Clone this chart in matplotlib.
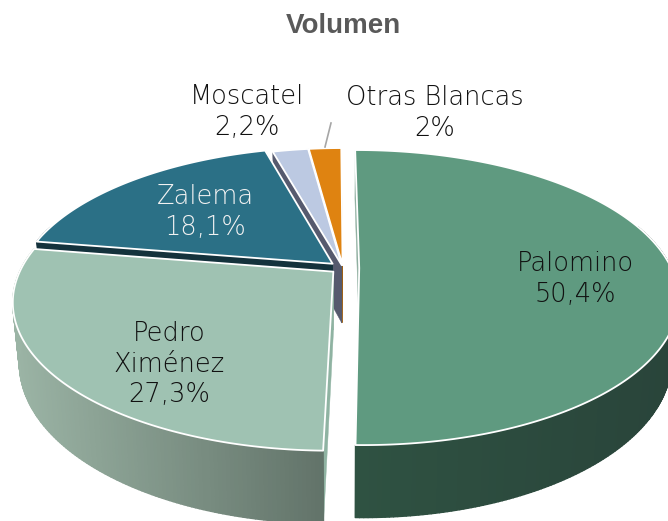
import numpy as np
import matplotlib
matplotlib.use("Agg")
import matplotlib.pyplot as plt
from matplotlib.collections import PolyCollection
from matplotlib.patches import Polygon

categories = ["Palomino", "Pedro\nXiménez", "Zalema", "Moscatel", "Otras Blancas"]
values = [50.4, 27.3, 18.1, 2.2, 2.0]
value_labels = ["50,4%", "27,3%", "18,1%", "2,2%", "2%"]
explode = [0.052, 0.04, 0.045, 0.02, 0.02]
top_colors = ["#5F9A80", "#9FC2B2", "#2B7086", "#BCC9E2", "#DF8311"]
wall_left = ["#2F5242", "#9BB4A5", "#14323C", "#565A6E", "#9A5A0C"]
wall_right = ["#29443A", "#627369", "#14323C", "#565A6E", "#9A5A0C"]
radial_colors = ["#8FAFA0", "#8FB3A2", "#14323C", "#565A6E", "#9A5A0C"]
label_pos = [(575, 279), (169, 364), (205, 212), (247, 112), (435, 113)]
label_colors = ["#111111", "#111111", "#F2F2F2", "#111111", "#111111"]

CX, CY = 343.0, 268.0
R, RV, K = 312.0, 141.6, 0.20
DEPTH, BOTTOM_SCALE = 58.0, 0.98
START = np.deg2rad(-0.3)

def project(u, v, bottom=False):
    u, v = np.asarray(u, float), np.asarray(v, float)
    w = 1 + K * v
    x = CX + R * u / w
    y = CY - RV * v / w
    if bottom:
        x = CX + (x - CX) * BOTTOM_SCALE
        y = y + DEPTH / w
    return x, y

def hex2rgb(c):
    return np.array(matplotlib.colors.to_rgb(c))

fig = plt.figure(figsize=(6.68, 5.21), dpi=100)
ax = fig.add_axes([0, 0, 1, 1])
ax.set_xlim(0, 668)
ax.set_ylim(521, 0)
ax.axis("off")

fractions = np.cumsum([0] + values) / sum(values)
order = [4, 3, 2, 1, 0]

for i in order:
    a0, a1 = START + 2 * np.pi * fractions[i], START + 2 * np.pi * fractions[i + 1]
    mid = (a0 + a1) / 2
    du, dv = explode[i] * np.sin(mid), explode[i] * np.cos(mid)
    t = np.linspace(a0, a1, max(6, int((a1 - a0) * 90)))
    u, v = np.sin(t) + du, np.cos(t) + dv

    xt, yt = project(u, v)
    xb, yb = project(u, v, bottom=True)
    ax_, ay_ = project(du, dv)
    bx_, by_ = project(du, dv, bottom=True)

    # radial walls
    for j in (0, -1):
        q = [(float(ax_), float(ay_)), (xt[j], yt[j]), (xb[j], yb[j]), (float(bx_), float(by_))]
        ax.add_patch(Polygon(q, closed=True, fc=radial_colors[i], ec=radial_colors[i],
                             lw=0.3, zorder=2))

    # outer wall with horizontal shading (front part only)
    quads, cols = [], []
    c0, c1 = hex2rgb(wall_left[i]), hex2rgb(wall_right[i])
    xmin, xmax = min(xt.min(), xb.min()), max(xt.max(), xb.max())
    for j in range(len(t) - 1):
        if v[j] > 0.3 and v[j + 1] > 0.3:
            continue
        quads.append([(xt[j], yt[j]), (xt[j + 1], yt[j + 1]), (xb[j + 1], yb[j + 1]), (xb[j], yb[j])])
        f = ((xt[j] + xt[j + 1]) / 2 - xmin) / max(xmax - xmin, 1)
        cols.append(c0 + (c1 - c0) * f)
    if quads:
        ax.add_collection(PolyCollection(quads, facecolors=cols, edgecolors=cols, linewidths=1.0, zorder=2))

    # top face
    pts = np.vstack([[float(ax_), float(ay_)], np.column_stack([xt, yt])])
    ax.add_patch(Polygon(pts, closed=True, fc=top_colors[i], ec="white", lw=1.3,
                         joinstyle="round", zorder=2))

for name, val, (x, y), col in zip(categories, value_labels, label_pos, label_colors):
    ax.text(x, y, f"{name}\n{val}", ha="center", va="center", ma="center", color=col,
            fontsize=18.5, family=["DejaVu Sans"], fontweight="light", linespacing=1.27, zorder=5)

ax.plot([331, 325], [123, 147], color="#A6A6A6", lw=1.2, zorder=6)
ax.text(343, 26, "Volumen", ha="center", va="center", color="#595959",
        fontsize=20, fontweight="bold", family="Liberation Sans")

fig.savefig("out.png", dpi=100, facecolor="white")
